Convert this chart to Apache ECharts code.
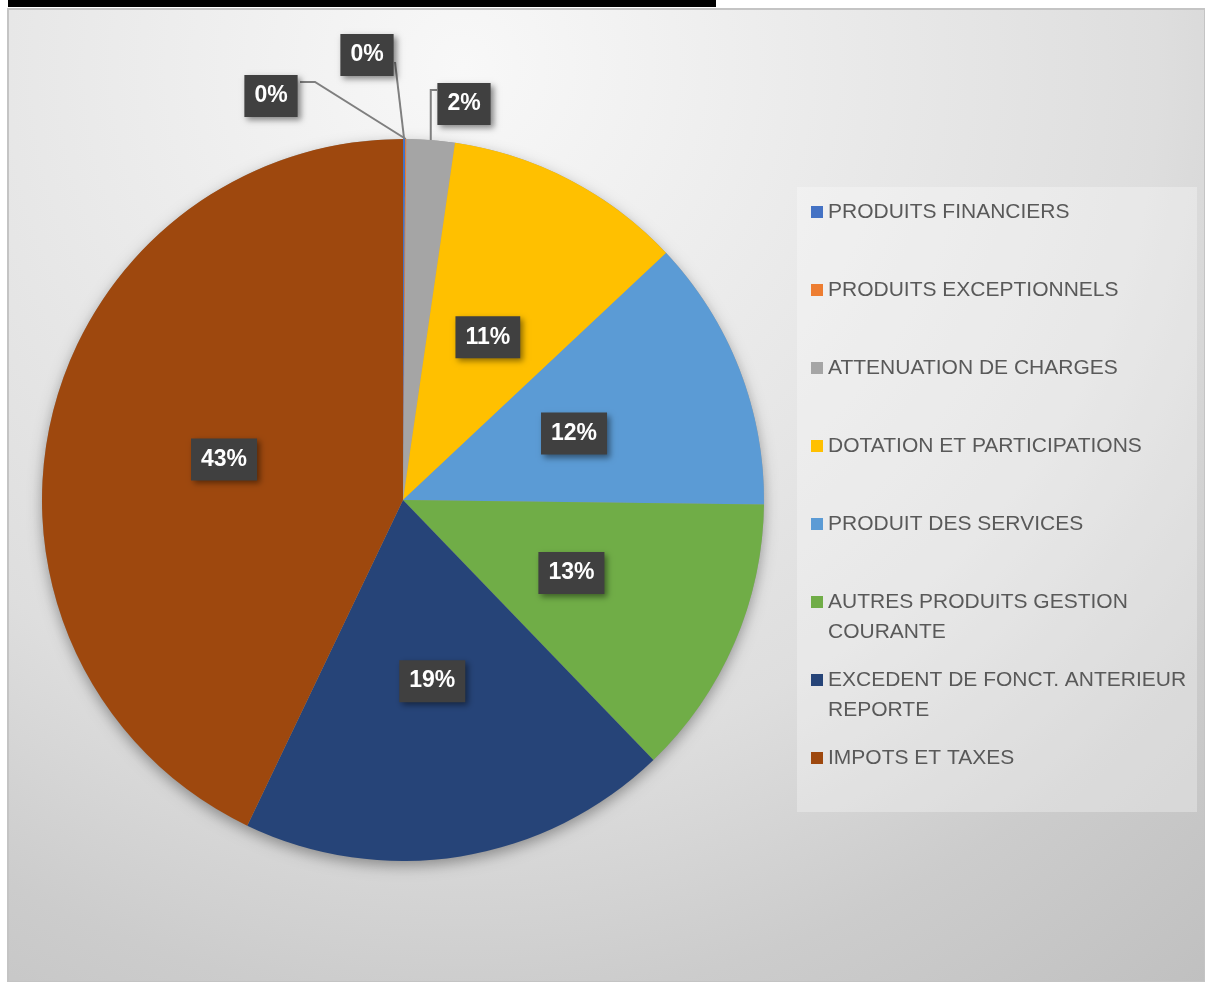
<!DOCTYPE html>
<html><head><meta charset="utf-8">
<script src="https://cdn.jsdelivr.net/npm/echarts@6/dist/echarts.min.js"></script>
<style>html,body{margin:0;padding:0;background:#fff;}#c{width:1205px;height:982px;}</style>
</head><body><div id="c"></div>
<script>
// ---- data ----
const categories = [
  'PRODUITS FINANCIERS',
  'PRODUITS EXCEPTIONNELS',
  'ATTENUATION DE CHARGES',
  'DOTATION ET PARTICIPATIONS',
  'PRODUIT DES SERVICES',
  'AUTRES PRODUITS GESTION COURANTE',
  'EXCEDENT DE FONCT. ANTERIEUR REPORTE',
  'IMPOTS ET TAXES'
];
const values = [0.1, 0.05, 2.15, 10.7, 12.2, 12.6, 19.3, 42.9];
const legendText = {
  'AUTRES PRODUITS GESTION COURANTE': 'AUTRES PRODUITS GESTION\nCOURANTE',
  'EXCEDENT DE FONCT. ANTERIEUR REPORTE': 'EXCEDENT DE FONCT. ANTERIEUR\nREPORTE'
};

// ---- style ----
const colors = ['#4472C4','#ED7D31','#A5A5A5','#FFC000','#5B9BD5','#70AD47','#264478','#9E480E'];
const FONT = 'Liberation Sans, Arial, sans-serif';
const outsideCount = 3;
// label placement for the small outside slices: [labelCenterX, labelCenterY, elbowX, elbowY, endX]
const outsidePlacement = [
  [367, 55, 395, 62, 395],
  [271, 96, 315, 82, 300],
  [464, 104, null, 90, 437]
];

const chart = echarts.init(document.getElementById('c'));
const total = values.reduce((a, b) => a + b, 0);

const legends = categories.map((name, i) => {
  const two = !!legendText[name];
  return {
    data: [name],
    orient: 'vertical',
    left: 811,
    top: 212 + i * 78 - (two ? 45 : 15),
    padding: 0,
    itemWidth: 12,
    itemHeight: 12,
    icon: 'rect',
    // a leading empty line keeps the marker level with the first line of wrapped names
    formatter: n => legendText[n] ? '\n' + legendText[n] : n,
    textStyle: {
      fontFamily: FONT, fontSize: 21, color: '#595959', lineHeight: 30
    }
  };
});

const option = {
  animation: false,
  color: colors,
  graphic: [
    { type: 'rect', z: -2, silent: true, shape: { x: 8, y: 0, width: 708, height: 7 }, style: { fill: '#000' } },
    { type: 'rect', z: -1, silent: true,
      shape: { x: 8, y: 9, width: 1197, height: 973 },
      style: {
        fill: { type: 'radial', x: 0.38, y: 0.06, r: 1.23,
          colorStops: [
            { offset: 0, color: '#f8f8f8' },
            { offset: 0.58, color: '#dedede' },
            { offset: 0.78, color: '#cccccc' },
            { offset: 1, color: '#bfbfbf' }
          ] },
        stroke: '#c4c4c4', lineWidth: 2
      } },
    { type: 'rect', z: 0, silent: true,
      shape: { x: 797, y: 187, width: 400, height: 625 },
      style: { fill: 'rgba(255,255,255,0.3)' } }
  ],
  legend: legends,
  series: [
    {
      type: 'pie',
      name: 'shadow',
      silent: true,
      z: 1,
      center: [403, 500],
      radius: 361,
      label: { show: false },
      labelLine: { show: false },
      itemStyle: { color: '#9a9a9a', shadowBlur: 14, shadowColor: 'rgba(0,0,0,0.35)', shadowOffsetY: 5 },
      data: [{ value: total, name: '' }]
    },
    {
      type: 'pie',
      name: 'Recettes',
      z: 2,
      center: [403, 500],
      radius: 361,
      startAngle: 90,
      clockwise: true,
      avoidLabelOverlap: false,
      itemStyle: { borderWidth: 0 },
      label: {
        position: 'inside',
        formatter: p => Math.round(p.percent) + '%',
        color: '#fff', fontFamily: FONT, fontWeight: 'bold', fontSize: 23,
        backgroundColor: '#404040', padding: [10, 10, 9, 10],
        shadowColor: 'rgba(0,0,0,0.45)', shadowBlur: 6, shadowOffsetX: 3, shadowOffsetY: 3
      },
      labelLine: { show: true, length: 20, length2: 10, lineStyle: { color: '#7f7f7f', width: 2 } },
      emphasis: { scale: false },
      labelLayout: function (params) {
        const i = params.dataIndex;
        if (params.seriesIndex !== 1 || i >= outsideCount) return {};
        const p = outsidePlacement[i];
        const start = params.labelLinePoints ? params.labelLinePoints[0] : [403, 140];
        const ex = p[2] == null ? start[0] : p[2];
        return {
          x: p[0], y: p[1], align: 'center', verticalAlign: 'middle',
          labelLinePoints: [start, [ex, p[3]], [p[4], p[3]]]
        };
      },
      data: categories.map((name, i) => ({
        name: name,
        value: values[i],
        label: i < outsideCount ? { position: 'outside' } : undefined
      }))
    }
  ]
};
chart.setOption(option);
</script></body></html>
